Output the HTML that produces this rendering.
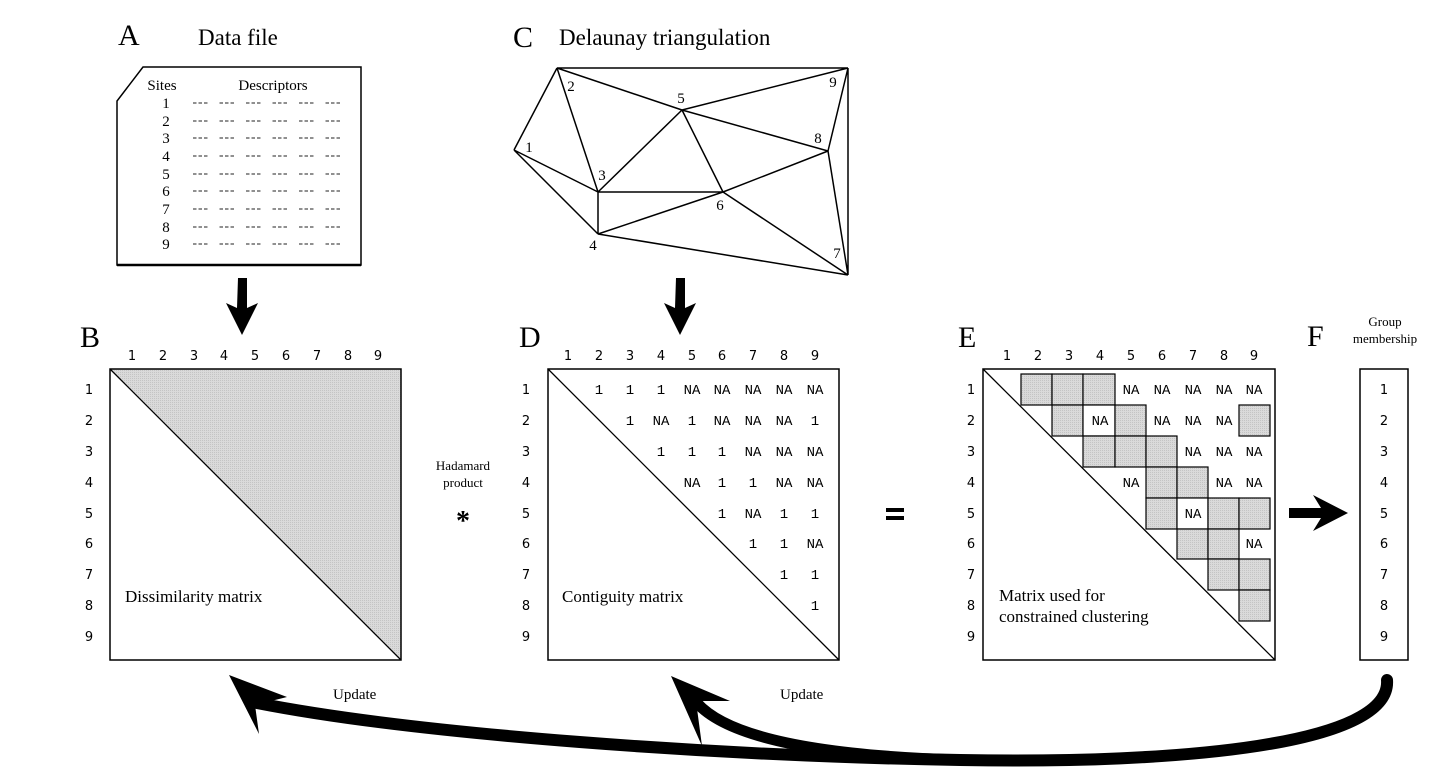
<!DOCTYPE html>
<html><head><meta charset="utf-8"><style>
html,body{margin:0;padding:0;background:#fff}
svg{display:block}
.s{font-family:"Liberation Serif",serif}
.n{font-family:"DejaVu Sans","Liberation Sans",sans-serif;font-size:13px}
.m{font-family:"Liberation Mono",monospace;font-size:14px}
</style></head><body>
<svg width="1454" height="782" viewBox="0 0 1454 782" xmlns="http://www.w3.org/2000/svg">
<defs>
<pattern id="g" width="2" height="2" patternUnits="userSpaceOnUse"><rect width="2" height="2" fill="#dadada"/><rect width="1" height="1" fill="#c4c4c4"/></pattern>
</defs>
<!-- A -->
<text x="118" y="45" class="s" font-size="30">A</text>
<text x="198" y="45" class="s" font-size="23">Data file</text>
<path d="M143,67 L361,67 L361,265 L117,265 L117,101 Z" fill="none" stroke="#000" stroke-width="1.5"/>
<line x1="117" y1="265" x2="361" y2="265" stroke="#000" stroke-width="2.5"/>
<g class="s" font-size="15" text-anchor="middle">
<text x="162" y="90">Sites</text><text x="273" y="90">Descriptors</text>
<text x="166" y="108">1</text><text x="166" y="126">2</text><text x="166" y="143">3</text><text x="166" y="161">4</text><text x="166" y="179">5</text><text x="166" y="196">6</text><text x="166" y="214">7</text><text x="166" y="232">8</text><text x="166" y="249">9</text>
</g>
<g stroke="#222" stroke-width="1.1" stroke-dasharray="3.5,2,3.5,2,3.5,12">
<line x1="193" y1="103" x2="350" y2="103"/>
<line x1="193" y1="121" x2="350" y2="121"/>
<line x1="193" y1="138" x2="350" y2="138"/>
<line x1="193" y1="156" x2="350" y2="156"/>
<line x1="193" y1="174" x2="350" y2="174"/>
<line x1="193" y1="191" x2="350" y2="191"/>
<line x1="193" y1="209" x2="350" y2="209"/>
<line x1="193" y1="227" x2="350" y2="227"/>
<line x1="193" y1="244" x2="350" y2="244"/>
</g>
<!-- C -->
<text x="513" y="47" class="s" font-size="30">C</text>
<text x="559" y="45" class="s" font-size="23">Delaunay triangulation</text>
<g stroke="#000" stroke-width="1.5" fill="none">
<path d="M557,68 L848,68 M557,68 L514,150 M557,68 L598,192 M557,68 L682,110 M682,110 L848,68 M848,68 L828,151 M848,68 L848,275 M514,150 L598,192 M514,150 L598,234 M598,192 L598,234 M598,192 L682,110 M598,192 L723,192 M682,110 L723,192 M682,110 L828,151 M828,151 L723,192 M828,151 L848,275 M723,192 L598,234 M723,192 L848,275 M598,234 L848,275"/>
</g>
<g class="s" font-size="15" text-anchor="middle">
<text x="529" y="152">1</text><text x="571" y="91">2</text><text x="681" y="103">5</text><text x="833" y="87">9</text><text x="818" y="143">8</text><text x="602" y="180">3</text><text x="720" y="210">6</text><text x="593" y="250">4</text><text x="837" y="258">7</text>
</g>
<!-- down arrows -->
<path d="M238,278 h9 v30 l11,-5 l-16,32 l-16,-32 l11,5 z" fill="#000"/>
<path d="M676,278 h9 v30 l11,-5 l-16,32 l-16,-32 l11,5 z" fill="#000"/>
<!-- B -->
<text x="80" y="347" class="s" font-size="30">B</text>
<polygon points="110,369 401,369 401,660" fill="url(#g)"/>
<rect x="110" y="369" width="291" height="291" fill="none" stroke="#000" stroke-width="1.5"/>
<line x1="110" y1="369" x2="401" y2="660" stroke="#000" stroke-width="1.3"/>
<g class="n" text-anchor="middle">
<text x="132" y="360">1</text><text x="163" y="360">2</text><text x="194" y="360">3</text><text x="224" y="360">4</text><text x="255" y="360">5</text><text x="286" y="360">6</text><text x="317" y="360">7</text><text x="348" y="360">8</text><text x="378" y="360">9</text>
<text x="89" y="394">1</text><text x="89" y="425">2</text><text x="89" y="456">3</text><text x="89" y="487">4</text><text x="89" y="518">5</text><text x="89" y="548">6</text><text x="89" y="579">7</text><text x="89" y="610">8</text><text x="89" y="641">9</text>
</g>
<text x="125" y="602" class="s" font-size="17">Dissimilarity matrix</text>
<!-- Hadamard -->
<g class="s" font-size="13" text-anchor="middle"><text x="463" y="470">Hadamard</text><text x="463" y="487">product</text></g>
<text x="463" y="530" class="s" font-size="28" text-anchor="middle" font-weight="bold">*</text>
<!-- D -->
<text x="519" y="347" class="s" font-size="30">D</text>
<rect x="548" y="369" width="291" height="291" fill="none" stroke="#000" stroke-width="1.5"/>
<line x1="548" y1="369" x2="839" y2="660" stroke="#000" stroke-width="1.3"/>
<g class="n" text-anchor="middle">
<text x="568" y="360">1</text><text x="599" y="360">2</text><text x="630" y="360">3</text><text x="661" y="360">4</text><text x="692" y="360">5</text><text x="722" y="360">6</text><text x="753" y="360">7</text><text x="784" y="360">8</text><text x="815" y="360">9</text>
<text x="526" y="394">1</text><text x="526" y="425">2</text><text x="526" y="456">3</text><text x="526" y="487">4</text><text x="526" y="518">5</text><text x="526" y="548">6</text><text x="526" y="579">7</text><text x="526" y="610">8</text><text x="526" y="641">9</text>
</g>
<g class="m" text-anchor="middle">
<text x="599" y="394">1</text><text x="630" y="394">1</text><text x="661" y="394">1</text><text x="692" y="394">NA</text><text x="722" y="394">NA</text><text x="753" y="394">NA</text><text x="784" y="394">NA</text><text x="815" y="394">NA</text>
<text x="630" y="425">1</text><text x="661" y="425">NA</text><text x="692" y="425">1</text><text x="722" y="425">NA</text><text x="753" y="425">NA</text><text x="784" y="425">NA</text><text x="815" y="425">1</text>
<text x="661" y="456">1</text><text x="692" y="456">1</text><text x="722" y="456">1</text><text x="753" y="456">NA</text><text x="784" y="456">NA</text><text x="815" y="456">NA</text>
<text x="692" y="487">NA</text><text x="722" y="487">1</text><text x="753" y="487">1</text><text x="784" y="487">NA</text><text x="815" y="487">NA</text>
<text x="722" y="518">1</text><text x="753" y="518">NA</text><text x="784" y="518">1</text><text x="815" y="518">1</text>
<text x="753" y="548">1</text><text x="784" y="548">1</text><text x="815" y="548">NA</text>
<text x="784" y="579">1</text><text x="815" y="579">1</text>
<text x="815" y="610">1</text>
</g>
<text x="562" y="602" class="s" font-size="17">Contiguity matrix</text>
<!-- = -->
<rect x="886" y="508" width="18" height="4" fill="#000"/><rect x="886" y="516" width="18" height="4" fill="#000"/>
<!-- E -->
<text x="958" y="347" class="s" font-size="30">E</text>
<rect x="983" y="369" width="292" height="291" fill="none" stroke="#000" stroke-width="1.5"/>
<line x1="983" y1="369" x2="1275" y2="660" stroke="#000" stroke-width="1.3"/>
<g fill="url(#g)" stroke="#000" stroke-width="1.2">
<rect x="1021" y="374" width="31" height="31"/><rect x="1052" y="374" width="31" height="31"/><rect x="1083" y="374" width="32" height="31"/>
<rect x="1052" y="405" width="31" height="31"/><rect x="1083" y="405" width="32" height="31" fill="#fff"/><rect x="1115" y="405" width="31" height="31"/><rect x="1239" y="405" width="31" height="31"/>
<rect x="1083" y="436" width="32" height="31"/><rect x="1115" y="436" width="31" height="31"/><rect x="1146" y="436" width="31" height="31"/>
<rect x="1146" y="467" width="31" height="31"/><rect x="1177" y="467" width="31" height="31"/>
<rect x="1146" y="498" width="31" height="31"/><rect x="1177" y="498" width="31" height="31" fill="#fff"/><rect x="1208" y="498" width="31" height="31"/><rect x="1239" y="498" width="31" height="31"/>
<rect x="1177" y="529" width="31" height="30"/><rect x="1208" y="529" width="31" height="30"/>
<rect x="1208" y="559" width="31" height="31"/><rect x="1239" y="559" width="31" height="31"/>
<rect x="1239" y="590" width="31" height="31"/>
</g>
<g class="n" text-anchor="middle">
<text x="1007" y="360">1</text><text x="1038" y="360">2</text><text x="1069" y="360">3</text><text x="1100" y="360">4</text><text x="1131" y="360">5</text><text x="1162" y="360">6</text><text x="1193" y="360">7</text><text x="1224" y="360">8</text><text x="1254" y="360">9</text>
<text x="971" y="394">1</text><text x="971" y="425">2</text><text x="971" y="456">3</text><text x="971" y="487">4</text><text x="971" y="518">5</text><text x="971" y="548">6</text><text x="971" y="579">7</text><text x="971" y="610">8</text><text x="971" y="641">9</text>
</g>
<g class="m" text-anchor="middle">
<text x="1131" y="394">NA</text><text x="1162" y="394">NA</text><text x="1193" y="394">NA</text><text x="1224" y="394">NA</text><text x="1254" y="394">NA</text>
<text x="1100" y="425">NA</text><text x="1162" y="425">NA</text><text x="1193" y="425">NA</text><text x="1224" y="425">NA</text>
<text x="1193" y="456">NA</text><text x="1224" y="456">NA</text><text x="1254" y="456">NA</text>
<text x="1131" y="487">NA</text><text x="1224" y="487">NA</text><text x="1254" y="487">NA</text>
<text x="1193" y="518">NA</text>
<text x="1254" y="548">NA</text>
</g>
<g class="s" font-size="17"><text x="999" y="601">Matrix used for</text><text x="999" y="622">constrained clustering</text></g>
<!-- right arrow -->
<path d="M1289,508 h32 l-8,-13 l35,18 l-35,18 l8,-13 h-32 z" fill="#000"/>
<!-- F -->
<text x="1307" y="346" class="s" font-size="30">F</text>
<g class="s" font-size="13" text-anchor="middle"><text x="1385" y="326">Group</text><text x="1385" y="343">membership</text></g>
<rect x="1360" y="369" width="48" height="291" fill="none" stroke="#000" stroke-width="1.5"/>
<g class="n" text-anchor="middle">
<text x="1384" y="394">1</text><text x="1384" y="425">2</text><text x="1384" y="456">3</text><text x="1384" y="487">4</text><text x="1384" y="518">5</text><text x="1384" y="548">6</text><text x="1384" y="579">7</text><text x="1384" y="610">8</text><text x="1384" y="641">9</text>
</g>
<!-- update arrows -->
<g fill="none" stroke="#000" stroke-linecap="round">
<path d="M1387,680 C1392,745 1180,764 960,760 C 720,756 420,735 257,703" stroke-width="12"/>
<path d="M960,760 C 830,756 730,740 697,703" stroke-width="11"/>
</g>
<polygon points="229,675 287,697 255,705 259,734" fill="#000"/>
<polygon points="671,676 730,701 696,701 702,746" fill="#000"/>
<g class="s" font-size="15"><text x="333" y="699">Update</text><text x="780" y="699">Update</text></g>
</svg>
</body></html>
